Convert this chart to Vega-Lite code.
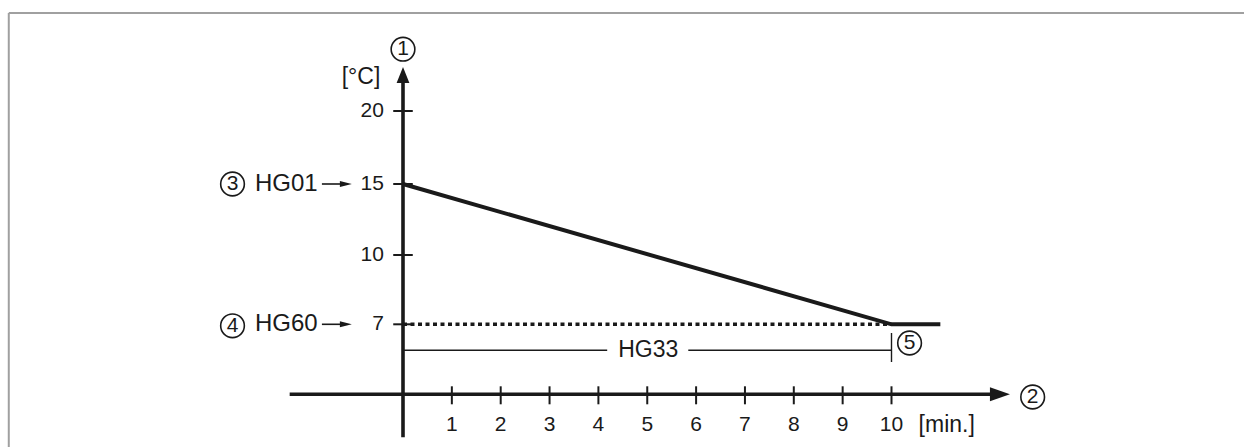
{
  "$schema": "https://vega.github.io/schema/vega-lite/v6.json",
  "width": 1235,
  "height": 434,
  "autosize": "none",
  "padding": {"left": 9, "top": 13, "right": 0, "bottom": 0},
  "background": "white",
  "config": {"view": {"stroke": null}, "text": {"font": "Liberation Sans", "color": "#1a1a1a"}},
  "datasets": {
    "frame": [
      {"x": -8.07, "y": 26.71, "x2": 17.4, "y2": 26.71},
      {"x": -8.07, "y": 26.71, "x2": -8.07, "y2": -6}
    ],
    "axes": [
      {"x": 0, "y": -4.3, "x2": 0, "y2": 22.3},
      {"x": -2.32, "y": 0, "x2": 12.1, "y2": 0}
    ],
    "ticks": [
      {"x": -0.2, "y": 7, "x2": 0.2, "y2": 7},
      {"x": -0.2, "y": 10, "x2": 0.2, "y2": 10},
      {"x": -0.2, "y": 15, "x2": 0.2, "y2": 15},
      {"x": -0.2, "y": 20, "x2": 0.2, "y2": 20},
      {"x": 1, "y": 0.8, "x2": 1, "y2": -1},
      {"x": 2, "y": 0.8, "x2": 2, "y2": -1},
      {"x": 3, "y": 0.8, "x2": 3, "y2": -1},
      {"x": 4, "y": 0.8, "x2": 4, "y2": -1},
      {"x": 5, "y": 0.8, "x2": 5, "y2": -1},
      {"x": 6, "y": 0.8, "x2": 6, "y2": -1},
      {"x": 7, "y": 0.8, "x2": 7, "y2": -1},
      {"x": 8, "y": 0.8, "x2": 8, "y2": -1},
      {"x": 9, "y": 0.8, "x2": 9, "y2": -1},
      {"x": 10, "y": 0.8, "x2": 10, "y2": -1}
    ],
    "dimension": [
      {"x": 0, "y": 4.4, "x2": 4.18, "y2": 4.4},
      {"x": 5.84, "y": 4.4, "x2": 10, "y2": 4.4},
      {"x": 10, "y": 6.13, "x2": 10, "y2": 3.23}
    ],
    "pointers": [
      {"x": -1.66, "y": 15, "x2": -1.2, "y2": 15},
      {"x": -1.66, "y": 7, "x2": -1.2, "y2": 7}
    ],
    "headUp": [{"x": 0, "y": 22.47}],
    "headRight": [{"x": 12.22, "y": 0}],
    "headSmall": [{"x": -1.17, "y": 15}, {"x": -1.17, "y": 7}],
    "temperature": [
      {"x": 0, "y": 15},
      {"x": 10, "y": 7},
      {"x": 11, "y": 7}
    ],
    "setpoint": [
      {"x": 0, "y": 7},
      {"x": 10, "y": 7}
    ],
    "yLabels": [
      {"x": -0.39, "y": 20, "text": "20"},
      {"x": -0.39, "y": 15, "text": "15"},
      {"x": -0.39, "y": 10, "text": "10"},
      {"x": -0.39, "y": 7, "text": "7"}
    ],
    "xLabels": [
      {"x": 1, "y": -3.07, "text": "1"},
      {"x": 2, "y": -3.07, "text": "2"},
      {"x": 3, "y": -3.07, "text": "3"},
      {"x": 4, "y": -3.07, "text": "4"},
      {"x": 5, "y": -3.07, "text": "5"},
      {"x": 6, "y": -3.07, "text": "6"},
      {"x": 7, "y": -3.07, "text": "7"},
      {"x": 8, "y": -3.07, "text": "8"},
      {"x": 9, "y": -3.07, "text": "9"},
      {"x": 10, "y": -3.07, "text": "10"}
    ],
    "notes": [
      {"x": -3.03, "y": 15, "text": "HG01"},
      {"x": -3.03, "y": 7, "text": "HG60"}
    ],
    "captions": [
      {"x": 5.02, "y": 4.4, "text": "HG33"},
      {"x": -0.86, "y": 22.33, "text": "[°C]"},
      {"x": 11.13, "y": -3.07, "text": "[min.]"}
    ],
    "markers": [
      {"x": 0, "y": 24.23, "text": "1"},
      {"x": 12.89, "y": -0.27, "text": "2"},
      {"x": -3.49, "y": 15, "text": "3"},
      {"x": -3.49, "y": 6.85, "text": "4"},
      {"x": 10.37, "y": 5.13, "text": "5"}
    ]
  },
  "encoding": {
    "x": {"field": "x", "type": "quantitative", "scale": {"domain": [0, 10], "range": [394, 882.5], "nice": false, "zero": false}, "axis": null},
    "y": {"field": "y", "type": "quantitative", "scale": {"domain": [0, 7, 10, 15, 20], "range": [381.3, 311.3, 242, 171, 98], "nice": false, "zero": false}, "axis": null}
  },
  "layer": [
    {
      "data": {"name": "frame"},
      "mark": {"type": "rule", "stroke": "#a0a0a0", "strokeWidth": 2},
      "encoding": {"x2": {"field": "x2"}, "y2": {"field": "y2"}}
    },
    {
      "data": {"name": "axes"},
      "mark": {"type": "rule", "stroke": "#1a1a1a", "strokeWidth": 3.6},
      "encoding": {"x2": {"field": "x2"}, "y2": {"field": "y2"}}
    },
    {
      "data": {"name": "ticks"},
      "mark": {"type": "rule", "stroke": "#1a1a1a", "strokeWidth": 2},
      "encoding": {"x2": {"field": "x2"}, "y2": {"field": "y2"}}
    },
    {
      "data": {"name": "dimension"},
      "mark": {"type": "rule", "stroke": "#1a1a1a", "strokeWidth": 1.4},
      "encoding": {"x2": {"field": "x2"}, "y2": {"field": "y2"}}
    },
    {
      "data": {"name": "pointers"},
      "mark": {"type": "rule", "stroke": "#1a1a1a", "strokeWidth": 1.6},
      "encoding": {"x2": {"field": "x2"}, "y2": {"field": "y2"}}
    },
    {
      "data": {"name": "headUp"},
      "mark": {"type": "point", "shape": "M0,-1L0.8,1L-0.8,1Z", "size": 256, "filled": true, "color": "#1a1a1a", "opacity": 1}
    },
    {
      "data": {"name": "headRight"},
      "mark": {"type": "point", "shape": "M1,0L-1,-0.7L-1,0.7Z", "size": 400, "filled": true, "color": "#1a1a1a", "opacity": 1}
    },
    {
      "data": {"name": "headSmall"},
      "mark": {"type": "point", "shape": "M1,0L-1,-0.5L-1,0.5Z", "size": 144, "filled": true, "color": "#1a1a1a", "opacity": 1}
    },
    {
      "data": {"name": "setpoint"},
      "mark": {"type": "line", "stroke": "#1a1a1a", "strokeWidth": 3.5, "strokeDash": [4, 3.5]},
      "encoding": {}
    },
    {
      "data": {"name": "temperature"},
      "mark": {"type": "line", "stroke": "#1a1a1a", "strokeWidth": 4},
      "encoding": {}
    },
    {
      "data": {"name": "yLabels"},
      "mark": {"type": "text", "align": "right", "baseline": "middle", "fontSize": 21},
      "encoding": {"text": {"field": "text"}}
    },
    {
      "data": {"name": "xLabels"},
      "mark": {"type": "text", "align": "center", "baseline": "middle", "fontSize": 21},
      "encoding": {"text": {"field": "text"}}
    },
    {
      "data": {"name": "notes"},
      "mark": {"type": "text", "align": "left", "baseline": "middle", "fontSize": 24},
      "encoding": {"text": {"field": "text"}}
    },
    {
      "data": {"name": "captions"},
      "mark": {"type": "text", "align": "center", "baseline": "middle", "fontSize": 23},
      "encoding": {"text": {"field": "text"}}
    },
    {
      "data": {"name": "markers"},
      "mark": {"type": "point", "shape": "circle", "size": 560, "filled": false, "stroke": "#1a1a1a", "strokeWidth": 1.6, "opacity": 1}
    },
    {
      "data": {"name": "markers"},
      "mark": {"type": "text", "align": "center", "baseline": "middle", "fontSize": 21},
      "encoding": {"text": {"field": "text"}}
    }
  ]
}
